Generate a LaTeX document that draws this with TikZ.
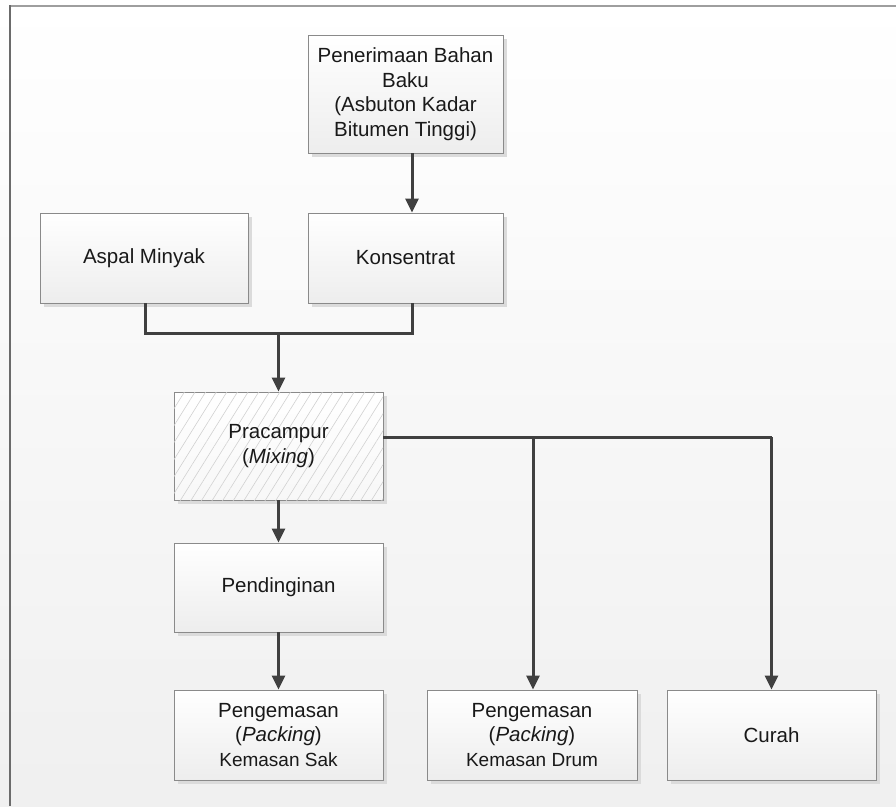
\documentclass[tikz,border=0pt]{standalone}
\usepackage{fontspec}
\setmainfont{Liberation Sans}
\usetikzlibrary{shadows,patterns.meta,arrows.meta}
\definecolor{linec}{HTML}{404040}
\definecolor{boxb}{HTML}{8A8A8A}
\tikzset{
  box/.style={draw=boxb, line width=0.9pt, top color=white, bottom color=black!7,
    general shadow={fill=black!14, shadow xshift=4pt, shadow yshift=-4pt},
    align=center, inner sep=2pt, text=black!90,
    font=\fontsize{20.5}{24.5}\selectfont},
  conn/.style={draw=linec, line width=3pt},
  arr/.style={conn, -{Triangle[length=14pt,width=13pt]}},
}
\newcommand{\smalltxt}[1]{{\fontsize{19}{23}\selectfont #1}}
\begin{document}
\begin{tikzpicture}[x=1pt,y=-1pt]
\useasboundingbox (0,0) rectangle (896,806);
\fill[top color=white, bottom color=black!6] (0,0) rectangle (896,806);
\draw[black!38, line width=2pt] (10,6) -- (896,6);
\draw[black!58, line width=1.2pt] (10,5) -- (10,806);

\node[box, minimum width=195pt, minimum height=118pt] (pen) at (405.5,94)
  {Penerimaan Bahan\\Baku\\(Asbuton Kadar\\Bitumen Tinggi)};
\node[box, minimum width=208pt, minimum height=90pt] (asp) at (144,258) {Aspal Minyak};
\node[box, minimum width=195pt, minimum height=90pt] (kon) at (405.5,258) {Konsentrat};
\node[box, minimum width=209pt, minimum height=108pt,
  top color=white, bottom color=black!3,
  postaction={pattern={Lines[angle=58,distance=9pt,line width=0.6pt]}, pattern color=black!18}]
  (pra) at (278.5,446) {Pracampur\\(\textit{Mixing})};
\node[box, minimum width=209pt, minimum height=89pt] (pdg) at (278.5,587.5) {Pendinginan};
\node[box, minimum width=209pt, minimum height=90pt] (sak) at (278.5,735)
  {Pengemasan\\(\textit{Packing})\\\smalltxt{Kemasan Sak}};
\node[box, minimum width=210pt, minimum height=90pt] (drum) at (532,735)
  {Pengemasan\\(\textit{Packing})\\\smalltxt{Kemasan Drum}};
\node[box, minimum width=209pt, minimum height=90pt] (cur) at (771.5,735) {Curah};

% connectors
\draw[arr] ([xshift=6.5pt]pen.south) -- ([xshift=6.5pt]kon.north);
\coordinate (j) at ([yshift=-30pt]asp.south);
\draw[conn] ([xshift=1pt]asp.south) -- ([xshift=1pt]j) -| ([xshift=6.5pt]kon.south);
\draw[arr] (pra.north |- j) -- (pra.north);
\draw[arr] (pra.south) -- (pdg.north);
\draw[arr] (pdg.south) -- (sak.north);
\coordinate (h) at ([yshift=9pt]pra.east);
\draw[conn] (h) -- (cur.north |- h);
\draw[arr] ([xshift=1pt]drum.north |- h) -- ([xshift=1pt]drum.north);
\draw[arr] (cur.north |- h) -- (cur.north);
\end{tikzpicture}
\end{document}
